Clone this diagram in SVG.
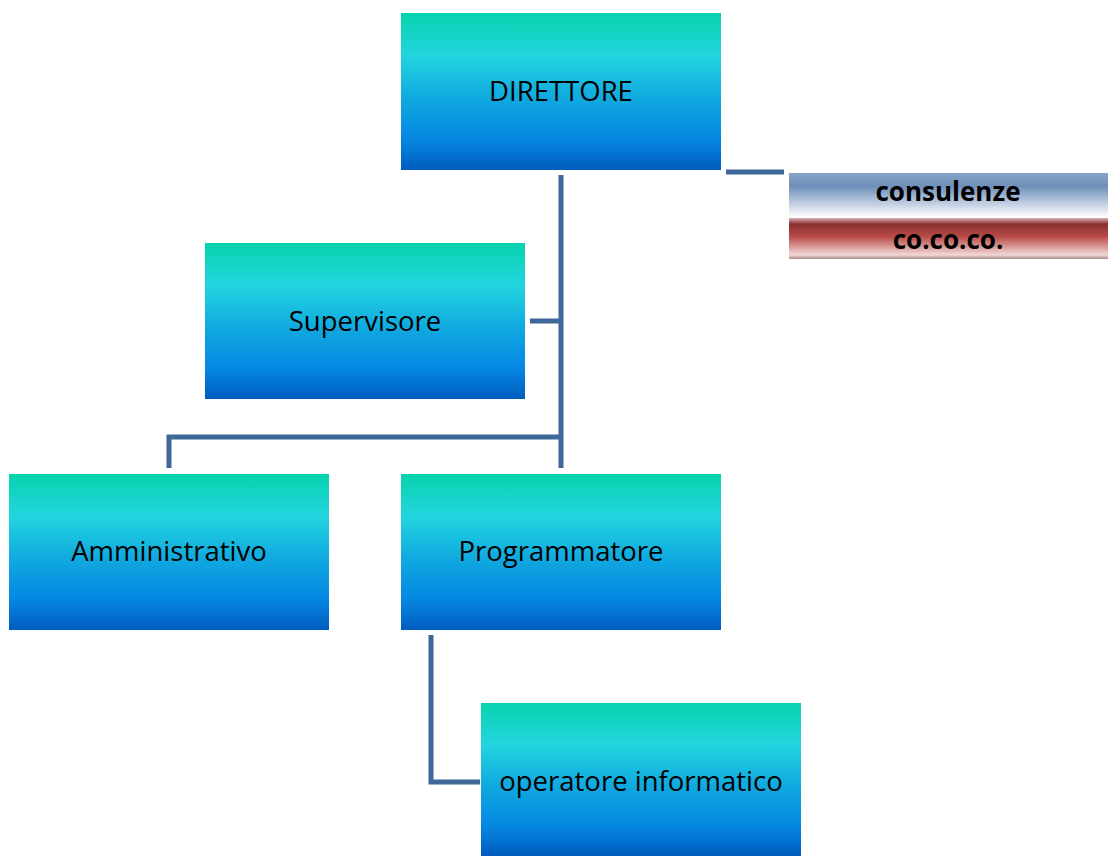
<svg xmlns="http://www.w3.org/2000/svg" width="1108" height="856" viewBox="0 0 1108 856">
<defs>
<linearGradient id="g" x1="0" y1="0" x2="0" y2="1">
<stop offset="0" stop-color="#07d3ad"/>
<stop offset="0.27" stop-color="#22d5df"/>
<stop offset="0.55" stop-color="#10a8e0"/>
<stop offset="0.8" stop-color="#0588e2"/>
<stop offset="1" stop-color="#005cbe"/>
</linearGradient>
<linearGradient id="gb" x1="0" y1="0" x2="0" y2="1">
<stop offset="0" stop-color="#8aa4c6"/>
<stop offset="0.3" stop-color="#6f8fba"/>
<stop offset="1" stop-color="#ffffff"/>
</linearGradient>
<linearGradient id="gr" x1="0" y1="0" x2="0" y2="1">
<stop offset="0" stop-color="#d8b0b0"/>
<stop offset="0.15" stop-color="#8a2f2f"/>
<stop offset="0.45" stop-color="#b84a48"/>
<stop offset="0.9" stop-color="#f2d8d6"/>
<stop offset="1" stop-color="#a88a84"/>
</linearGradient>
</defs>
<style>
.box{fill:url(#g)}
.t{font-family:"Open Sans","Liberation Sans",sans-serif;font-size:27.5px;fill:#000;text-anchor:middle}
.tb{font-family:"Open Sans","Liberation Sans",sans-serif;font-size:26px;font-weight:bold;fill:#000;text-anchor:middle}
.c{fill:none;stroke:#3e6898;stroke-width:5}
</style>
<g id="connectors">
<path class="c" d="M561,175 V468"/>
<path class="c" d="M530,321 H561"/>
<path class="c" d="M169,468 V437 H563"/>
<path class="c" d="M431,635 V782 H480"/>
<path class="c" d="M726,172 H784"/>
</g>
<g id="direttore"><rect class="box" x="401" y="13" width="320" height="157"/><text class="t" x="561" y="101">DIRETTORE</text></g>
<g id="supervisore"><rect class="box" x="205" y="243" width="320" height="156"/><text class="t" x="365" y="331">Supervisore</text></g>
<g id="amministrativo"><rect class="box" x="9" y="474" width="320" height="156"/><text class="t" x="169" y="561">Amministrativo</text></g>
<g id="programmatore"><rect class="box" x="401" y="474" width="320" height="156"/><text class="t" x="561" y="561">Programmatore</text></g>
<g id="operatore"><rect class="box" x="481" y="703" width="320" height="153"/><text class="t" x="641" y="791">operatore informatico</text></g>
<g id="consulenze"><rect x="789" y="173" width="319" height="44" fill="url(#gb)"/><text class="tb" x="948" y="201">consulenze</text></g>
<g id="cococo"><rect x="789" y="218" width="319" height="41" fill="url(#gr)"/><text class="tb" x="948" y="249">co.co.co.</text></g>
</svg>
